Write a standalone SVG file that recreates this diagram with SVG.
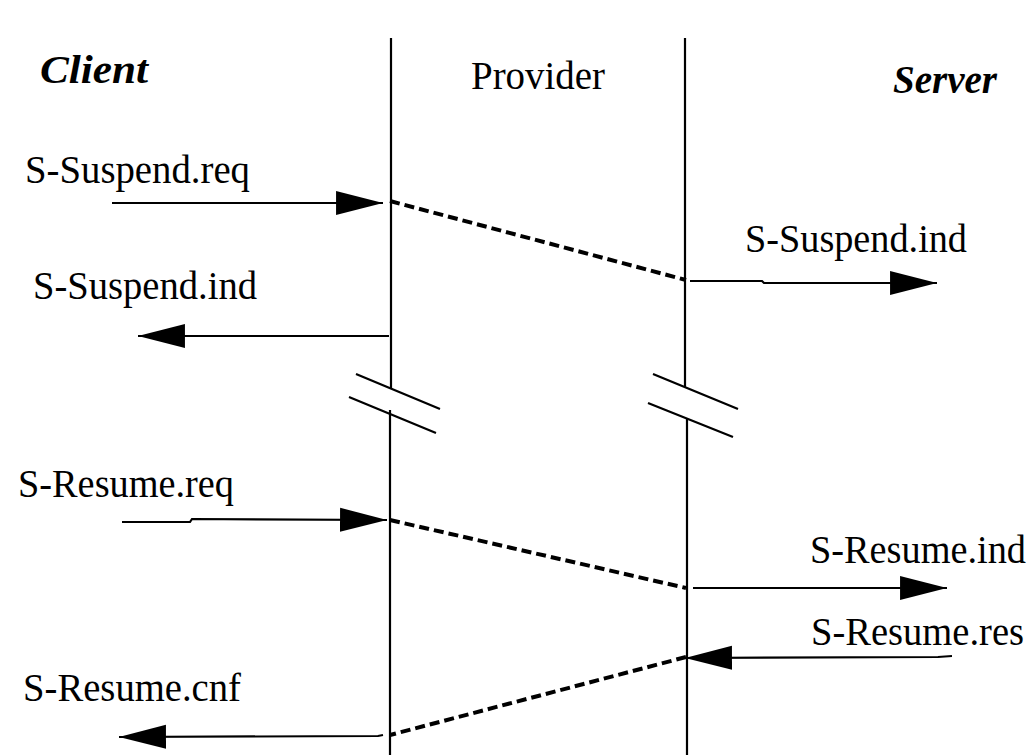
<svg xmlns="http://www.w3.org/2000/svg" width="1036" height="755" viewBox="0 0 1036 755">
  <style>
    .lifeline { stroke: #000; stroke-width: 2.2; fill: none; }
    .msg { stroke: #000; stroke-width: 2.2; fill: none; }
    .relay { stroke: #000; stroke-width: 4; fill: none; stroke-dasharray: 10 5; }
    .brk { stroke: #000; stroke-width: 2.2; fill: none; }
    .lbl { font-family: "Liberation Serif", "Times New Roman", serif; font-size: 39px; fill: #000; }
    .role { font-family: "Liberation Serif", "Times New Roman", serif; font-size: 40px; font-weight: bold; font-style: italic; fill: #000; }
  </style>
  <defs>
    <marker id="head" markerUnits="userSpaceOnUse" markerWidth="48" markerHeight="26" viewBox="0 0 46 24" refX="45" refY="12" orient="auto">
      <path d="M0,0.5 L45,12 L0,23.5 Z" fill="#000"/>
    </marker>
  </defs>

  <rect width="1036" height="755" fill="#fff"/>

  <!-- lifelines with interruption gaps -->
  <g id="provider-client-side">
    <path class="lifeline" d="M391,38 V389 M390,410 V755"/>
    <path class="brk" d="M356,374 L440,409 M349,397 L436,433"/>
  </g>
  <g id="provider-server-side">
    <path class="lifeline" d="M685,38 V387 M687,419 V755"/>
    <path class="brk" d="M653,374 L738,409 M648,403 L733,437"/>
  </g>

  <!-- party labels -->
  <g id="client"><text class="role" x="40" y="83" textLength="108" lengthAdjust="spacingAndGlyphs">Client</text></g>
  <g id="provider"><text class="lbl" x="471" y="89" textLength="134" lengthAdjust="spacingAndGlyphs">Provider</text></g>
  <g id="server"><text class="role" x="893" y="93" textLength="104" lengthAdjust="spacingAndGlyphs">Server</text></g>

  <!-- primitive labels -->
  <g id="labels">
    <text class="lbl" x="25" y="183" textLength="225" lengthAdjust="spacingAndGlyphs">S-Suspend.req</text>
    <text class="lbl" x="745" y="252" textLength="222" lengthAdjust="spacingAndGlyphs">S-Suspend.ind</text>
    <text class="lbl" x="33" y="299" textLength="224" lengthAdjust="spacingAndGlyphs">S-Suspend.ind</text>
    <text class="lbl" x="18" y="497" textLength="216" lengthAdjust="spacingAndGlyphs">S-Resume.req</text>
    <text class="lbl" x="810" y="563" textLength="216" lengthAdjust="spacingAndGlyphs">S-Resume.ind</text>
    <text class="lbl" x="811" y="645" textLength="213" lengthAdjust="spacingAndGlyphs">S-Resume.res</text>
    <text class="lbl" x="23" y="701" textLength="218" lengthAdjust="spacingAndGlyphs">S-Resume.cnf</text>
  </g>

  <!-- service primitives and provider relays -->
  <g id="connectors">
    <path class="msg" d="M112,203 L383,203" marker-end="url(#head)"/>
    <path class="relay" d="M390,201 L686,280"/>
    <path class="msg" d="M690,281 L762,281 L764,283 L937,283" marker-end="url(#head)"/>
    <path class="msg" d="M389,336 L138,336" marker-end="url(#head)"/>

    <path class="msg" d="M122,522 L190,522 L192,519 L387,520" marker-end="url(#head)"/>
    <path class="relay" d="M390,520 L686,588"/>
    <path class="msg" d="M693,588 L947,588" marker-end="url(#head)"/>
    <path class="msg" d="M952,656 L938,657 L685,658" marker-end="url(#head)"/>
    <path class="relay" d="M686,657 L390,735"/>
    <path class="msg" d="M383,735 L378,736 L119,737" marker-end="url(#head)"/>
  </g>
</svg>
